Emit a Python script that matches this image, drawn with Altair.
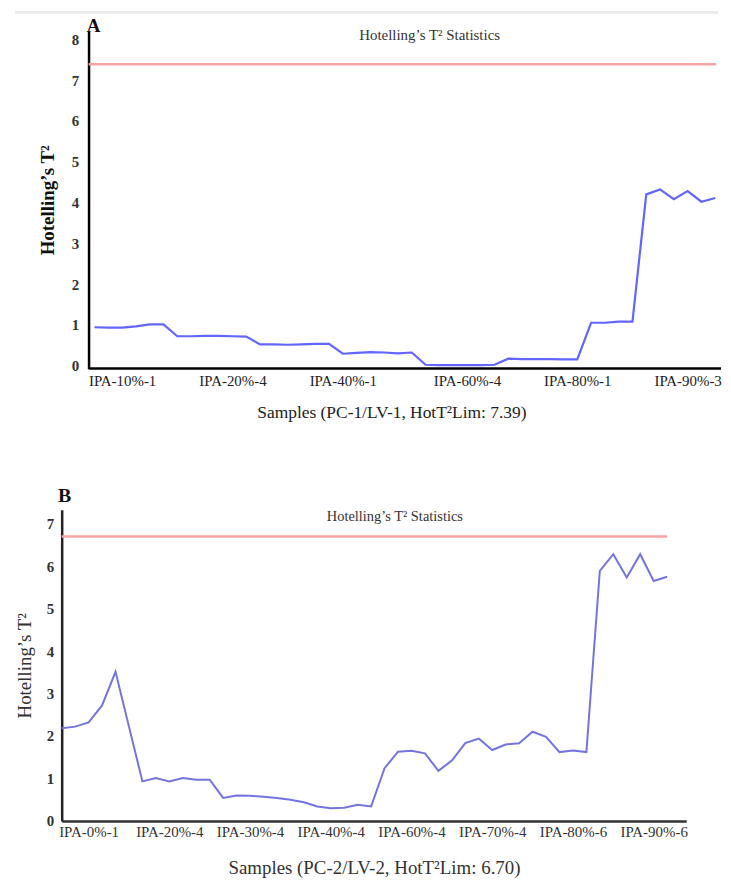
import json
import altair as alt
import pandas as pd

# ---------------- Panel A data ----------------
a_values = [0.94, 0.93, 0.93, 0.96, 1.01, 1.01,
            0.72, 0.72, 0.73, 0.73, 0.72, 0.71,
            0.52, 0.52, 0.51, 0.52, 0.53, 0.53,
            0.29, 0.31, 0.33, 0.32, 0.30, 0.32,
            0.02, 0.01, 0.01, 0.01, 0.01, 0.02,
            0.17, 0.16, 0.16, 0.16, 0.15, 0.15,
            1.05, 1.05, 1.08, 1.08,
            4.20, 4.32, 4.08, 4.28, 4.02, 4.11]
a_tick_pos = [2, 10, 18, 27, 35, 43]
a_tick_labels = ["IPA-10%-1", "IPA-20%-4", "IPA-40%-1", "IPA-60%-4", "IPA-80%-1", "IPA-90%-3"]
a_limit = 7.39
a_y_ticks = [0, 1, 2, 3, 4, 5, 6, 7, 8]

# ---------------- Panel B data ----------------
b_values = [2.18, 2.22, 2.32, 2.72, 3.51, 2.22,
            0.93, 1.01, 0.93, 1.01, 0.97, 0.97,
            0.54, 0.60, 0.59, 0.57, 0.54, 0.50,
            0.44, 0.34, 0.30, 0.31, 0.38, 0.34,
            1.24, 1.63, 1.65, 1.59, 1.18, 1.42,
            1.83, 1.94, 1.67, 1.80, 1.83, 2.10,
            1.98, 1.62, 1.66, 1.62,
            5.89, 6.28, 5.73, 6.28, 5.65, 5.75]
b_tick_pos = [2, 8, 14, 20, 26, 32, 38, 44]
b_tick_labels = ["IPA-0%-1", "IPA-20%-4", "IPA-30%-4", "IPA-40%-4",
                 "IPA-60%-4", "IPA-70%-4", "IPA-80%-6", "IPA-90%-6"]
b_limit = 6.70
b_y_ticks = [0, 1, 2, 3, 4, 5, 6, 7]

FONT = "Liberation Serif"
PANEL_TITLE = "Hotelling\u2019s T\u00b2 Statistics"
Y_TITLE = "Hotelling\u2019s T\u00b2"


def label_expr(pos, labels):
    return f"{json.dumps(labels)}[indexof({json.dumps(pos)}, datum.value)]"


one = pd.DataFrame({"k": [0]})

# ---------------- Panel A ----------------
dfA = pd.DataFrame({"i": list(range(len(a_values))), "v": a_values})
a_lim_df = pd.DataFrame({"x": [-0.43], "x2": [45.06], "y": [a_limit]})
a_axis_df = pd.DataFrame({"x": [-0.43], "x2": [45.42], "y": [-0.07]})

xA = alt.X("i:Q", scale=alt.Scale(domain=[-2.38, 45.42], nice=False, zero=False),
           axis=alt.Axis(values=a_tick_pos, labelExpr=label_expr(a_tick_pos, a_tick_labels),
                         grid=False, domain=False, ticks=False, labelPadding=5,
                         labelFont=FONT, labelFontSize=15, labelColor="#222",
                         title="Samples (PC-1/LV-1, HotT\u00b2Lim: 7.39)", titleFont=FONT,
                         titleFontSize=17.5, titleFontWeight="normal", titlePadding=15,
                         titleColor="#222", labelOverlap=False))
yA = alt.Y("v:Q", scale=alt.Scale(domain=[-0.07, 8.2], nice=False, zero=False),
           axis=alt.Axis(values=a_y_ticks, offset=-27, grid=False, ticks=False,
                         domainColor="#000", domainWidth=2.5, labelPadding=10,
                         labelFont=FONT, labelFontSize=15, labelFontWeight="bold",
                         labelColor="#333", title=Y_TITLE, titleFont=FONT,
                         titleFontSize=19, titleFontWeight="bold", titlePadding=14,
                         titleColor="#111"))

a_gray = alt.Chart(one).mark_rule(color="#ececec", strokeWidth=3).encode(
    x=alt.value(-47), x2=alt.value(660), y=alt.value(-19))
a_lim = alt.Chart(a_lim_df).mark_rule(color="#f5a3a3", strokeWidth=2.5).encode(
    x=alt.X("x:Q"), x2="x2:Q", y=alt.Y("y:Q"))
a_xaxis = alt.Chart(a_axis_df).mark_rule(color="#000", strokeWidth=2.5).encode(
    x=alt.X("x:Q"), x2="x2:Q", y=alt.Y("y:Q"))
a_line = alt.Chart(dfA).mark_line(color="#6464ff", strokeWidth=2.2).encode(x=xA, y=yA)
a_letter = alt.Chart(one).mark_text(font=FONT, fontSize=19, fontWeight="bold",
                                    align="center", baseline="middle", color="#111").encode(
    x=alt.value(32), y=alt.value(-5), text=alt.value("A"))
a_title = alt.Chart(one).mark_text(font=FONT, fontSize=15, align="center",
                                   baseline="middle", color="#333").encode(
    x=alt.value(370), y=alt.value(4), text=alt.value(PANEL_TITLE))

panelA = alt.layer(a_line, a_gray, a_lim, a_xaxis, a_letter, a_title).properties(
    width=663, height=339)

# ---------------- Panel B ----------------
dfB = pd.DataFrame({"i": list(range(len(b_values))), "v": b_values})
b_lim_df = pd.DataFrame({"x": [0.0], "x2": [45.0], "y": [b_limit]})

xB = alt.X("i:Q", scale=alt.Scale(domain=[0, 46.42], nice=False, zero=False),
           axis=alt.Axis(values=b_tick_pos, labelExpr=label_expr(b_tick_pos, b_tick_labels),
                         grid=False, domain=True, domainColor="#333", domainWidth=2.5,
                         ticks=False, labelPadding=4, labelFont=FONT, labelFontSize=15,
                         labelColor="#333", title="Samples (PC-2/LV-2, HotT\u00b2Lim: 6.70)",
                         titleFont=FONT, titleFontSize=19, titleFontWeight="normal",
                         titlePadding=19, titleColor="#333", labelOverlap=False))
yB = alt.Y("v:Q", scale=alt.Scale(domain=[0, 7.33], nice=False, zero=False),
           axis=alt.Axis(values=b_y_ticks, grid=False, ticks=False, domainColor="#222",
                         domainWidth=2.5, labelPadding=8, labelFont=FONT, labelFontSize=15,
                         labelFontWeight="bold", labelColor="#333", title=Y_TITLE,
                         titleFont=FONT, titleFontSize=19, titleFontWeight="normal",
                         titlePadding=12, titleColor="#333"))

b_lim = alt.Chart(b_lim_df).mark_rule(color="#f5a3a3", strokeWidth=2.5).encode(
    x=alt.X("x:Q"), x2="x2:Q", y=alt.Y("y:Q"))
b_line = alt.Chart(dfB).mark_line(color="#7474e0", strokeWidth=2).encode(x=xB, y=yB)
b_letter = alt.Chart(one).mark_text(font=FONT, fontSize=20, fontWeight="bold",
                                    align="center", baseline="middle", color="#111").encode(
    x=alt.value(3), y=alt.value(-14), text=alt.value("B"))
b_title = alt.Chart(one).mark_text(font=FONT, fontSize=14.5, align="center",
                                   baseline="middle", color="#333").encode(
    x=alt.value(335), y=alt.value(7), text=alt.value(PANEL_TITLE))

panelB = alt.layer(b_line, b_lim, b_letter, b_title).properties(width=628, height=313)

chart = alt.vconcat(panelA, panelB, spacing=65).properties(
    padding={"left": 5, "top": 0, "right": 0, "bottom": 0}
).configure_view(stroke=None).configure_axis(
    grid=False, labelFont=FONT, titleFont=FONT
)

chart.save("out.html", embed_options={"renderer": "svg", "actions": False})
